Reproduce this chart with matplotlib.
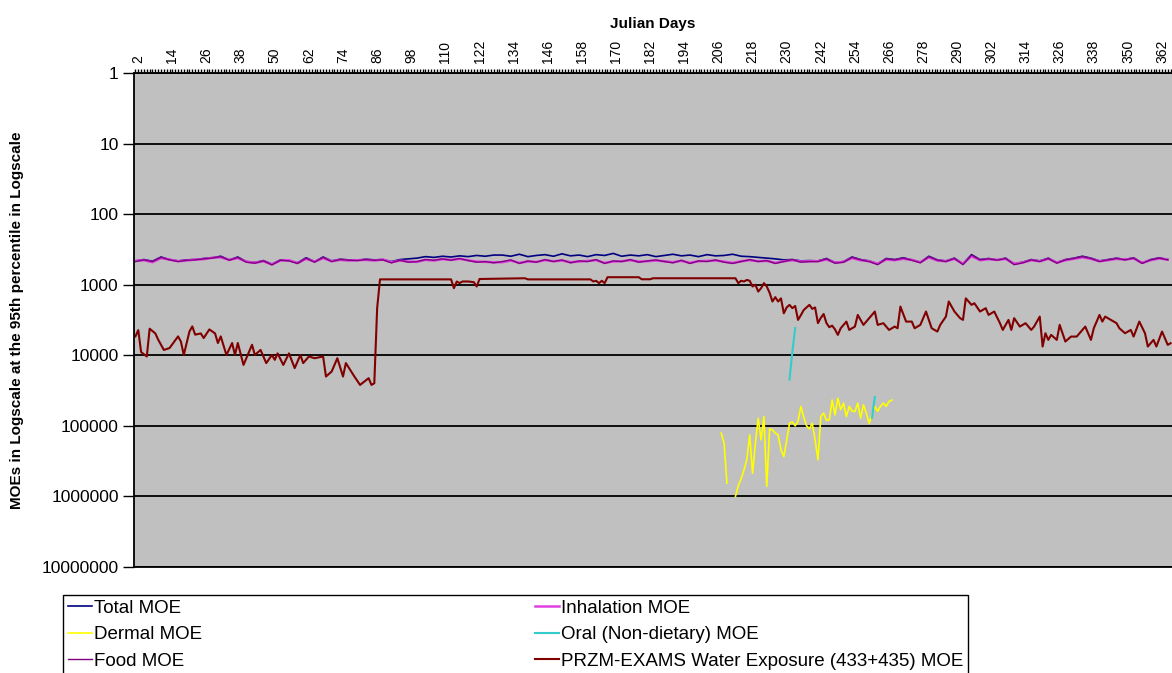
import numpy as np
import matplotlib.pyplot as plt
from matplotlib.ticker import FixedLocator, MultipleLocator

plt.rcParams['font.family'] = ['Liberation Sans', 'DejaVu Sans']

# days (3-day grid) for the three lines that sit around a few hundred
grid_days = list(range(1, 366, 3))

total_moe = [460, 440, 465, 405, 440, 460, 445, 440, 425, 415,
             395, 445, 405, 470, 485, 455, 510, 445, 455, 490,
             415, 470, 405, 460, 435, 445, 450, 435, 445, 440,
             470, 440, 430, 420, 400, 410, 395, 405, 390, 400,
             385, 395, 380,
             380, 395, 370, 400, 385, 375, 395, 365, 390, 380,
             400, 375, 385, 360, 395, 380, 390, 375, 400, 385,
             370, 390, 380, 400, 375, 390, 385, 370, 395, 400,
             410, 420, 430, 445, 440, 460, 455,
             460, 425, 485, 470, 405, 440, 460, 505, 425, 440,
             415, 445, 480, 395, 445, 460, 420, 505, 375, 440,
             425, 445, 420, 505, 480, 440, 460, 420, 485, 440,
             420, 395, 420, 460, 440, 420, 440, 415, 490, 440,
             415, 440]

inhalation_moe = [460, 450, 480, 420, 440, 465, 455, 440, 435, 415,
                  410, 445, 420, 470, 490, 465, 515, 455, 450, 495,
                  430, 470, 420, 465, 445, 455, 450, 445, 455, 440,
                  480, 455, 470, 475, 445, 455, 435, 445, 430, 450,
                  470, 475, 480,
                  480, 455, 490, 470, 475, 450, 465, 455, 480, 470,
                  460, 450, 490, 470, 465, 450, 470, 465, 455, 465,
                  480, 460, 490, 465, 460, 455, 470, 490, 465, 450,
                  465, 460, 490, 465, 450, 470, 465,
                  465, 440, 485, 475, 420, 450, 465, 505, 440, 450,
                  430, 445, 480, 410, 455, 465, 430, 505, 395, 450,
                  435, 445, 430, 505, 485, 450, 465, 430, 485, 450,
                  430, 410, 430, 465, 450, 430, 440, 425, 490, 450,
                  425, 440]

food_moe = [470, 445, 470, 410, 445, 470, 450, 445, 430, 420,
            400, 450, 410, 480, 496, 460, 524, 450, 460, 500,
            420, 480, 410, 470, 440, 450, 455, 440, 450, 445,
            490, 450, 480, 470, 440, 450, 430, 450, 425, 455,
            480, 470, 490,
            470, 445, 500, 460, 480, 440, 470, 445, 490, 460,
            470, 440, 500, 460, 470, 440, 480, 460, 445, 470,
            490, 450, 500, 460, 470, 445, 480, 500, 470, 440,
            470, 455, 500, 470, 440, 480, 470,
            470, 430, 496, 480, 410, 445, 470, 520, 430, 445,
            420, 450, 490, 400, 450, 470, 425, 520, 380, 445,
            430, 450, 425, 520, 490, 445, 470, 425, 496, 445,
            425, 400, 425, 470, 445, 425, 445, 420, 500, 445,
            420, 445]

dermal_days = [207, 208, 209, 210, 212, 213, 214, 215, 216, 217, 218, 219, 220,
               221, 222, 223, 224, 225, 226, 227, 228, 229, 230, 231, 232, 233,
               234, 235, 236, 237, 238, 239, 240, 241, 242, 243, 244, 245, 246,
               247, 248, 249, 250, 251, 252, 253, 254, 255, 256, 257, 258, 259,
               260, 261, 262, 263, 264, 265, 266, 267]
dermal_moe = [127000, 176000, 650000, np.nan, 1000000, 700000, 560000, 420000,
              300000, 134000, 470000, 176000, 78000, 158000, 74000, 720000,
              110000, 114000, 127000, 134000, 219000, 272000, 160000, 92000,
              88000, 100000, 86000, 53000, 75000, 100000, 110000, 92000,
              158000, 303000, 74000, 66000, 84000, 82000, 43000, 70000, 40600,
              59000, 47700, 74000, 53000, 62000, 62700, 47700, 77800, 50500,
              66000, 92000, 70000, 53000, 62000, 53000, 47700, 53000, 45000,
              43000]

oral_days = [231, 232, 233, 234, 260, 261]
oral_moe = [22000, 9000, 4100, np.nan, 77000, 39000]

przm_days = [1, 2, 3, 5, 6, 8, 9, 11, 13, 16, 17, 18, 20, 21, 22, 24, 25, 27,
             29, 30, 31, 33, 35, 36, 37, 39, 42, 43, 45, 47, 49, 50, 51, 53,
             55, 57, 59, 60, 62, 64, 67, 68, 70, 72, 74, 75, 78, 80, 83, 84,
             85, 86, 87, 112, 113, 114, 115, 116, 117, 118, 120, 121, 122,
             138, 139, 161, 162, 163, 164, 165, 166, 167, 178, 179, 182, 183,
             212, 213, 214, 215, 216, 217, 218, 219, 220, 221, 222, 223, 224,
             225, 226, 227, 228, 229, 230, 231, 232, 233, 234, 235, 236, 237,
             238, 239, 240, 241, 242, 243, 244, 245, 246, 247, 248, 249, 251,
             252, 254, 255, 257, 258, 261, 262, 264, 266, 268, 269, 270, 272,
             274, 275, 277, 279, 281, 283, 284, 286, 287, 289, 291, 292, 293,
             295, 296, 298, 300, 301, 303, 305, 306, 308, 309, 310, 312, 314,
             316, 317, 319, 320, 321, 322, 323, 325, 326, 328, 330, 332, 333,
             335, 337, 338, 340, 341, 342, 344, 346, 347, 349, 351, 352, 354,
             356, 357, 359, 360, 362, 364, 365]
przm_moe = [5400, 4400, 9000, 10400, 4200, 4900, 6000, 8400, 7900, 5400, 6400,
            9900, 4600, 3900, 5100, 4900, 5700, 4300, 4900, 6700, 5400, 9900,
            6700, 9900, 6700, 13700, 7100, 9900, 8400, 12900, 9900, 11600,
            9400, 13700, 9400, 15200, 9900, 12900, 10400, 11000, 10400, 20000,
            17000, 11000, 20000, 12900, 20000, 26300, 21100, 26300, 24900,
            2150, 840, 840, 1120, 900, 950, 900, 900, 900, 920, 1060, 830,
            810, 840, 840, 900, 880, 950, 880, 950, 783, 783, 837, 837, 810,
            810, 950, 880, 900, 855, 880, 1060, 1000, 1250, 1120, 950, 1060,
            1300, 1730, 1500, 1730, 1560, 2540, 2100, 1930, 2150, 2000, 3150,
            2700, 2280, 2100, 1930, 2200, 2100, 3500, 2950, 2600, 3500, 4000,
            3800, 4300, 5140, 4140, 3330, 4370, 3920, 2680, 3710, 3330, 2400,
            3710, 3510, 4370, 3920, 4140, 2040, 3330, 3330, 4140, 3710, 2400,
            4140, 4610, 3710, 2830, 1730, 2400, 2980, 3150, 1560, 1930, 1830,
            2400, 2150, 2680, 2400, 3510, 4370, 3150, 4370, 2980, 3920, 3510,
            4370, 3920, 2830, 7520, 4870, 6050, 5140, 6050, 3710, 6390, 5430,
            5430, 4870, 3920, 6050, 4140, 2680, 3330, 2830, 3150, 3510, 4140,
            4870, 4370, 5430, 3330, 4870, 7520, 6050, 7520, 4610, 7120, 6740]

y_ticks = [1, 10, 100, 1000, 10000, 100000, 1000000, 10000000]
y_labels = ['1', '10', '100', '1000', '10000', '100000', '1000000', '10000000']
x_label_days = list(range(2, 366, 12))

fig = plt.figure(figsize=(11.72, 6.73), dpi=100)
ax = fig.add_axes([134 / 1172, 106 / 673, 1038 / 1172, 494 / 673])
ax.set_facecolor('#c0c0c0')

l_total, = ax.plot(grid_days, total_moe, color='#000080', lw=1.2, label='Total MOE')
l_inh, = ax.plot(grid_days, inhalation_moe, color='#e040e0', lw=1.8, label='Inhalation MOE')
l_derm, = ax.plot(dermal_days, dermal_moe, color='#ffff00', lw=1.2, label='Dermal MOE')
l_oral, = ax.plot(oral_days, oral_moe, color='#33cccc', lw=1.5, label='Oral (Non-dietary) MOE')
l_food, = ax.plot(grid_days, food_moe, color='#800080', lw=1.0, label='Food MOE')
l_przm, = ax.plot(przm_days, przm_moe, color='#800000', lw=1.5,
                  label='PRZM-EXAMS Water Exposure (433+435) MOE')

ax.set_yscale('log')
ax.set_ylim(10000000, 1)
ax.yaxis.set_major_locator(FixedLocator(y_ticks))
ax.yaxis.set_minor_locator(FixedLocator([]))
ax.set_yticklabels(y_labels, fontsize=12.5)
ax.grid(True, axis='y', color='black', lw=1.3)
ax.tick_params(axis='y', direction='out', length=8, width=1, pad=3)

ax.set_xlim(0.5, 365.5)
ax.xaxis.tick_top()
ax.xaxis.set_label_position('top')
ax.set_xticks(x_label_days)
ax.set_xticklabels([str(d) for d in x_label_days], rotation=90, fontsize=10)
ax.xaxis.set_minor_locator(MultipleLocator(1))
ax.tick_params(axis='x', which='both', direction='out', length=3, width=1, pad=4)

for s in ['top', 'left', 'bottom']:
    ax.spines[s].set_color('black')
    ax.spines[s].set_linewidth(1.3)
ax.spines['right'].set_visible(False)

ax.set_xlabel('Julian Days', fontsize=11, fontweight='bold')
ax.xaxis.set_label_coords(0.5, 1.091)
ax.set_ylabel('MOEs in Logscale at the 95th percentile in Logscale',
              fontsize=11, fontweight='bold')
ax.yaxis.set_label_coords(-0.106, 0.5)

handles = [l_total, l_derm, l_food, l_inh, l_oral, l_przm]
leg = fig.legend(handles=handles, labels=[h.get_label() for h in handles],
                 ncol=2, loc='upper left', mode='expand',
                 bbox_to_anchor=(63 / 1172, 0, 905 / 1172, 1 - 595 / 673),
                 fontsize=13.5, frameon=True, fancybox=False, framealpha=1,
                 edgecolor='black', handlelength=1.3, handletextpad=0.1,
                 labelspacing=0.5, borderpad=0.25, borderaxespad=0)
leg.get_frame().set_linewidth(1.0)

plt.savefig('out.png', dpi=100)
